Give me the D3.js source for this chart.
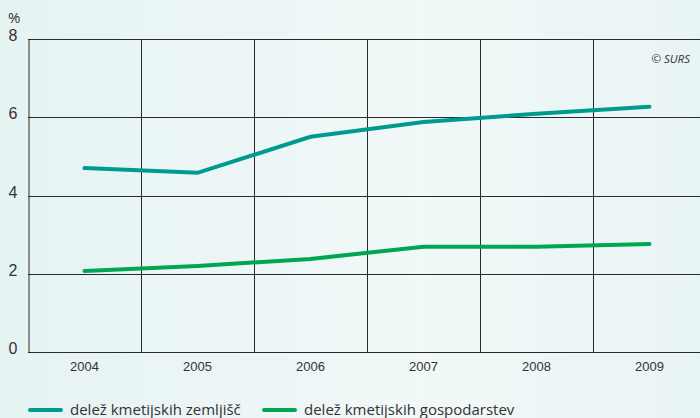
<!DOCTYPE html>
<html><head><meta charset="utf-8">
<script src="https://cdn.jsdelivr.net/npm/d3@7"></script>
<style>
html,body{margin:0;padding:0;background:#eaf5f5;}
svg{display:block;font-family:"Open Sans","Noto Sans",sans-serif;}
</style></head>
<body>
<svg id="c" width="700" height="418"></svg>
<script>
const years = ["2004","2005","2006","2007","2008","2009"];
const zemljisc = [4.70, 4.58, 5.50, 5.88, 6.09, 6.27];
const gospodarstev = [2.07, 2.20, 2.38, 2.69, 2.69, 2.76];
const yTicks = [0, 2, 4, 6, 8];
const seriesNames = ["delež kmetijskih zemljišč", "delež kmetijskih gospodarstev"];
const seriesColors = ["#009b8f", "#00a651"];

(function(){
const svg = d3.select("#c");
const defs = svg.append("defs");
const g = defs.append("linearGradient").attr("id","bg").attr("x1","0").attr("x2","1");
g.append("stop").attr("offset","0").attr("stop-color","#e6f3f3");
g.append("stop").attr("offset","0.6").attr("stop-color","#f1f8f8");
g.append("stop").attr("offset","1").attr("stop-color","#e9f4f4");
svg.append("rect").attr("width",700).attr("height",418).attr("fill","url(#bg)");

const mLeft = 28, mTop = 39, mBottom = 352;
const x = d3.scaleBand().domain(years).range([mLeft, 706]);
const y = d3.scaleLinear().domain([0, 8]).range([mBottom, mTop]);

svg.append("g").selectAll("line").data(yTicks.filter(d => d > 0)).join("line")
  .attr("x1", mLeft).attr("x2", 700)
  .attr("y1", d => Math.round(y(d)) + 0.5).attr("y2", d => Math.round(y(d)) + 0.5)
  .attr("stroke", "#2a2a2a").attr("stroke-width", 1);
svg.append("g").selectAll("line").data(years.slice(1)).join("line")
  .attr("x1", d => Math.round(x(d)) + 0.5).attr("x2", d => Math.round(x(d)) + 0.5)
  .attr("y1", mTop).attr("y2", mBottom)
  .attr("stroke", "#2a2a2a").attr("stroke-width", 1);

const yAxis = d3.axisLeft(y).tickValues(yTicks).tickSize(0).tickPadding(11);
const ya = svg.append("g").attr("transform", `translate(${mLeft + 0.5},0)`).call(yAxis);
ya.select(".domain").attr("stroke", "#2a2a2a");
ya.selectAll("text").attr("font-size", 16).attr("fill", "#333").attr("dy", "0.1em");

const xAxis = d3.axisBottom(x).tickSize(0).tickPadding(9);
const xa = svg.append("g").attr("transform", `translate(0,${mBottom + 0.5})`).call(xAxis);
xa.select(".domain").remove();
svg.append("line").attr("x1", mLeft).attr("x2", 700).attr("y1", mBottom + 0.5).attr("y2", mBottom + 0.5)
  .attr("stroke", "#2a2a2a");
xa.selectAll("text").attr("font-size", 13).attr("fill", "#333");

svg.append("text").attr("x", 8).attr("y", 23).attr("font-size", 15).attr("fill", "#333").text("%");
svg.append("text").attr("x", 690).attr("y", 63).attr("text-anchor", "end").attr("font-size", 11.5)
  .attr("font-style", "italic").attr("fill", "#333").text("© SURS");

const line = d3.line().x((d, i) => x(years[i]) + x.bandwidth() / 2).y(d => y(d));
[zemljisc, gospodarstev].forEach((s, i) => {
  svg.append("path").datum(s).attr("d", line).attr("fill", "none")
    .attr("stroke", seriesColors[i]).attr("stroke-width", 4).attr("stroke-linecap", "round");
});

const legX = [30, 264];
seriesNames.forEach((n, i) => {
  svg.append("line").attr("x1", legX[i]).attr("x2", legX[i] + 31).attr("y1", 410).attr("y2", 410)
    .attr("stroke", seriesColors[i]).attr("stroke-width", 4).attr("stroke-linecap", "round");
  svg.append("text").attr("x", legX[i] + 40).attr("y", 415).attr("font-size", 15).attr("fill", "#333").text(n);
});
})();
</script>
</body></html>
